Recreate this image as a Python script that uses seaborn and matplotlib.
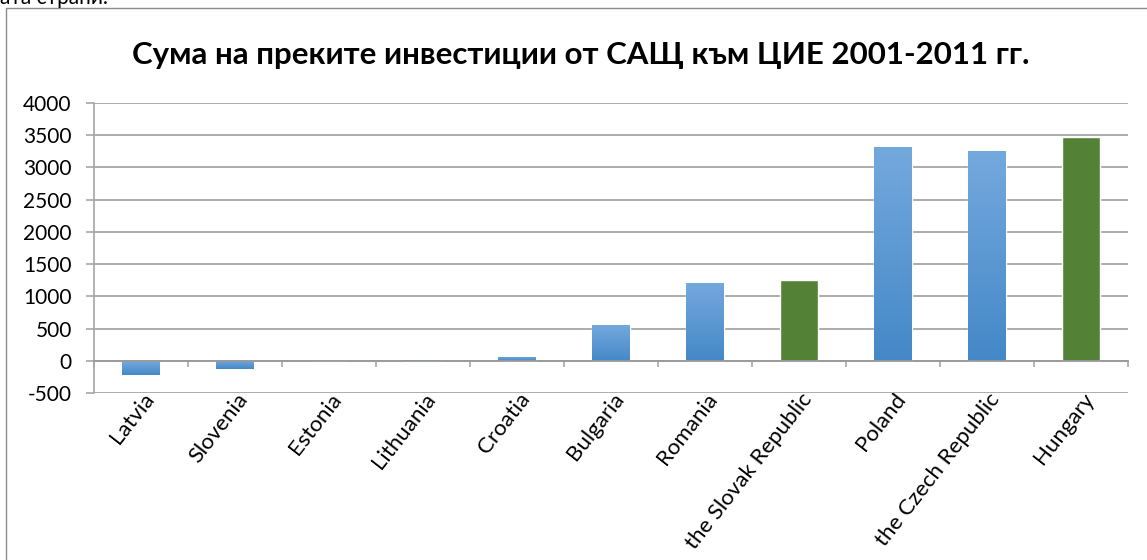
import numpy as np
import pandas as pd
import matplotlib
matplotlib.use("Agg")
import matplotlib.pyplot as plt
import matplotlib.transforms as mtransforms
import seaborn as sns
from matplotlib.colors import LinearSegmentedColormap, to_rgb
from matplotlib.lines import Line2D

# ---- data ----
countries = ["Latvia", "Slovenia", "Estonia", "Lithuania", "Croatia", "Bulgaria",
             "Romania", "the Slovak Republic", "Poland", "the Czech Republic", "Hungary"]
values = [-215, -125, 2, 18, 65, 548, 1212, 1258, 3316, 3255, 3469]
groups = ["blue", "blue", "blue", "blue", "blue", "blue", "blue",
          "green", "blue", "blue", "green"]
y_ticks = [-500, 0, 500, 1000, 1500, 2000, 2500, 3000, 3500, 4000]
title = "Сума на преките инвестиции от САЩ към ЦИЕ 2001-2011 гг."
top_note = "ата страни."

BLUE = "#5B9BD5"
GREEN = "#538135"
GRID = "#A6A6A6"

sns.set_theme(style="white")
plt.rcParams['font.family'] = ['Lato', 'DejaVu Sans']

W, H = 1147, 560
fig = plt.figure(figsize=(W / 100, H / 100), dpi=100)
ax = fig.add_axes([94 / W, 1 - 393 / H, (1128 - 94) / W, (393 - 103) / H])

df = pd.DataFrame({"country": countries, "value": values, "group": groups})
sns.barplot(data=df, x="country", y="value", hue="group",
            palette={"blue": BLUE, "green": GREEN}, dodge=False, width=0.4,
            saturation=1, legend=False, ax=ax, zorder=3)

# gradient fill for the blue bars
cmap = LinearSegmentedColormap.from_list("g", ["#4488C8", "#74A9DD"])
grad = np.linspace(0, 1, 256).reshape(-1, 1)
green_rgb = np.array(to_rgb(GREEN))
for p in list(ax.patches):
    fc = np.array(p.get_facecolor()[:3])
    if np.allclose(fc, green_rgb, atol=0.02):
        continue
    h = p.get_height()
    if abs(h) < 1e-9:
        continue
    x0, w, y0 = p.get_x(), p.get_width(), p.get_y()
    ylo, yhi = min(y0, y0 + h), max(y0, y0 + h)
    im = ax.imshow(grad, cmap=cmap, extent=[x0, x0 + w, ylo, yhi], origin="lower",
                   aspect="auto", zorder=3.1, interpolation="bilinear")
    im.set_clip_path(p)

# spines first (set_position resets tick properties)
for s in ["top", "right"]:
    ax.spines[s].set_visible(False)
ax.spines["bottom"].set_position(("data", 0))
ax.spines["bottom"].set_color("#999999")
ax.spines["bottom"].set_linewidth(1.3)
ax.spines["bottom"].set_zorder(4)
ax.spines["left"].set_color(GRID)
ax.spines["left"].set_linewidth(1.2)

ax.set_xlim(-0.5, len(countries) - 0.5)
ax.set_ylim(y_ticks[0], y_ticks[-1])
ax.set_aspect("auto")

ax.set_yticks(y_ticks)
ax.set_yticklabels([str(v) for v in y_ticks], fontsize=15, color="black")
ax.yaxis.grid(True, color=GRID, lw=1.3)
ax.set_axisbelow(True)
ax.tick_params(axis="y", length=6, width=1.2, color=GRID, pad=10, left=True)

ax.set_xticks(range(len(countries)))
ax.set_xticklabels(countries, rotation=52, ha="right", va="center",
                   rotation_mode="anchor", fontsize=16, color="black")
ax.set_xticks(np.arange(-0.5, len(countries), 1.0), minor=True)
ax.tick_params(axis="x", which="major", length=0, pad=25)
ax.tick_params(axis="x", which="minor", length=4.5, width=1.2, color=GRID,
               direction="out", bottom=True)
shift = mtransforms.ScaledTranslation(9 / 100, 0, fig.dpi_scale_trans)
for lbl in ax.get_xticklabels():
    lbl.set_transform(lbl.get_transform() + shift)
ax.set_xlabel("")
ax.set_ylabel("")

# chart frame (partially outside the picture)
fig.add_artist(Line2D([5.5 / W, 5.5 / W, 1.0], [0.0, 1 - 7.5 / H, 1 - 7.5 / H],
                      transform=fig.transFigure, color="#8C8C8C", lw=1.0))

fig.text(581 / W, 1 - 55 / H, title, ha="center", va="center",
         fontsize=22.5, fontweight="bold", color="black")
fig.text(0.0, 1 - 4.5 / H, top_note, ha="left", va="baseline",
         fontsize=15, color="black")

fig.savefig("out.png", dpi=100)
